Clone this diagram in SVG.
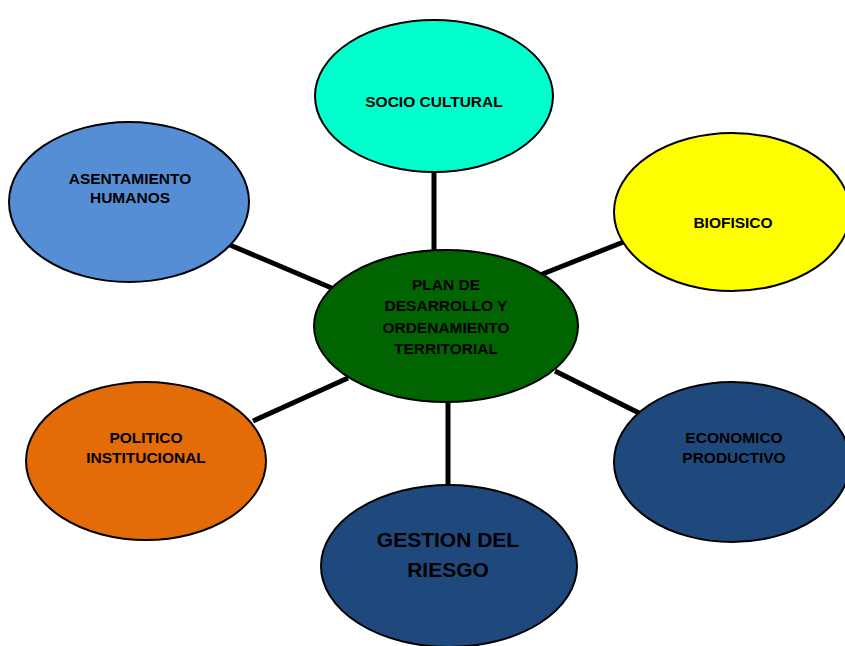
<svg xmlns="http://www.w3.org/2000/svg" width="845" height="646" viewBox="0 0 845 646">
<style>
.n{stroke:#000;stroke-width:2}
.t{font-family:"Liberation Sans",Arial,sans-serif;font-weight:bold;font-size:15.5px;fill:#000;text-anchor:middle}
.big{font-size:21px}
#connectors line{stroke:#000;stroke-width:5}
</style>
<rect width="845" height="646" fill="#fff"/>
<g id="connectors">
<line x1="434" y1="170" x2="434" y2="253"/>
<line x1="448" y1="400" x2="448" y2="488"/>
<line x1="230" y1="245" x2="334" y2="289"/>
<line x1="540" y1="275" x2="626" y2="241"/>
<line x1="253" y1="421" x2="348" y2="378"/>
<line x1="555" y1="371" x2="639" y2="413"/>
</g>
<g id="socio">
<ellipse class="n" cx="434" cy="96" rx="119" ry="76" fill="#00ffcc"/>
<text class="t" x="434" y="107">SOCIO CULTURAL</text>
</g>
<g id="asentamiento">
<ellipse class="n" cx="129" cy="202" rx="120" ry="80" fill="#558ed5"/>
<text class="t" x="130" y="184">ASENTAMIENTO</text>
<text class="t" x="130" y="203">HUMANOS</text>
</g>
<g id="biofisico">
<ellipse class="n" cx="732" cy="212" rx="118" ry="79" fill="#ffff00"/>
<text class="t" x="733" y="228">BIOFISICO</text>
</g>
<g id="economico">
<ellipse class="n" cx="732" cy="462" rx="118" ry="80" fill="#1f497d"/>
<text class="t" x="734" y="443">ECONOMICO</text>
<text class="t" x="734" y="463">PRODUCTIVO</text>
</g>
<g id="politico">
<ellipse class="n" cx="146" cy="461" rx="120" ry="79" fill="#e36c09"/>
<text class="t" x="146" y="443">POLITICO</text>
<text class="t" x="146" y="463">INSTITUCIONAL</text>
</g>
<g id="gestion">
<ellipse class="n" cx="449" cy="566" rx="128" ry="81" fill="#1f497d"/>
<text class="t big" x="448" y="547">GESTION DEL</text>
<text class="t big" x="448" y="577">RIESGO</text>
</g>
<g id="centro">
<ellipse class="n" cx="446" cy="326" rx="132" ry="76" fill="#006400"/>
<text class="t" x="446" y="290">PLAN DE</text>
<text class="t" x="446" y="311">DESARROLLO Y</text>
<text class="t" x="446" y="333">ORDENAMIENTO</text>
<text class="t" x="446" y="354">TERRITORIAL</text>
</g>
</svg>
